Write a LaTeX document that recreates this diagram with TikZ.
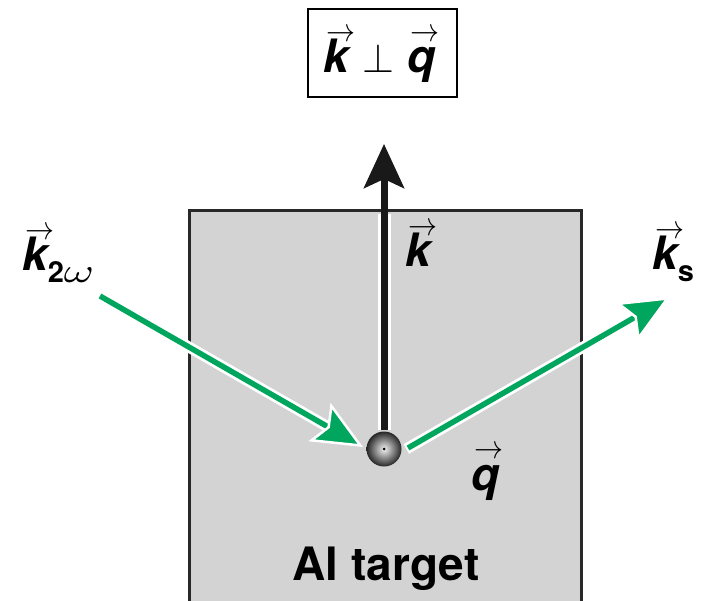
\documentclass[tikz,border=0pt]{standalone}
\usepackage{graphicx}
\usepackage{fontspec}
\setmainfont{TeX Gyre Heros}
\usetikzlibrary{arrows.meta}
\definecolor{beamgreen}{RGB}{0,166,93}
\definecolor{targetgray}{RGB}{211,211,211}
\definecolor{edgegray}{RGB}{40,40,40}
\newcommand\tenpt{\fontsize{10}{12}\selectfont}
\newcommand\vk[2][3pt]{\leavevmode\rlap{\kern#1\raisebox{31.5pt}{\scalebox{2.9}[3.3]{\tenpt$\rightarrow$}}}{\bfseries\itshape #2}}
\newcommand\subtxt[1]{\raisebox{-12pt}{\fontsize{29}{31}\selectfont\bfseries #1}}
\begin{document}
\begin{tikzpicture}[x=1pt,y=-1pt,
  lbl/.style={inner sep=0pt,font=\fontsize{46}{50}\selectfont},
  greenline/.style={beamgreen,line width=5.5pt},
  whiteline/.style={white,line width=11pt},
  greentip/.style={-{Stealth[length=50pt,width=44pt,inset=9pt,fill=beamgreen,color=white,line width=2.5pt]}}]
\useasboundingbox (0,0) rectangle (706,601);
\clip (0,0) rectangle (706,601);
% target
\draw[fill=targetgray,draw=edgegray,line width=3pt] (189,211) rectangle (581,620);
\node[lbl,anchor=base] (al) at (386,580) {\bfseries Al target};
% formula box
\draw[line width=2pt] (307.5,9.5) rectangle (457,97);
\node[lbl,anchor=base west] (formula) at (323,73) {\vk{k}\hspace{14pt}\scalebox{4.1}{\tenpt$\perp$}\hspace{13pt}\vk{q}};
% coordinates
\coordinate (ctr) at (384,449);
\coordinate (ktip) at (384,144);
\coordinate (kbase) at (384,430);
\coordinate (inA) at (100,296);
\coordinate (inB) at (363,447);
\coordinate (outA) at (408,448);
\coordinate (outB) at (670,297);
% vertical arrow
\draw[white,line width=13pt] (kbase) -- (384,214);
\draw[black!90,line width=7pt,-{Stealth[length=44pt,width=40pt,inset=9pt]}] (kbase) -- (ktip);
% incoming
\draw[whiteline,shorten >=30pt] (inA) -- (inB);
\draw[greenline,greentip] (inA) -- (inB);
% outgoing
\draw[whiteline,shorten >=30pt,shorten <=-2pt] (outA) -- (outB);
\draw[greenline,greentip] (outA) -- (outB);
% sphere
\shade[inner color=gray!10,outer color=black!85] (ctr) circle (17.5pt);
\fill[black] (ctr) circle (1.5pt);
% labels
\node[lbl,anchor=base west] (k2w) at (22,271) {\vk{k}\subtxt{2\scalebox{4.6}[3.4]{\tenpt$\omega$}}};
\node[lbl,anchor=base west] (kv) at (405,267) {\vk{k}};
\node[lbl,anchor=base west] (ks) at (652,270) {\vk{k}\subtxt{s}};
\node[lbl,anchor=base west] (qv) at (471,490) {\vk{q}};
\end{tikzpicture}
\end{document}
